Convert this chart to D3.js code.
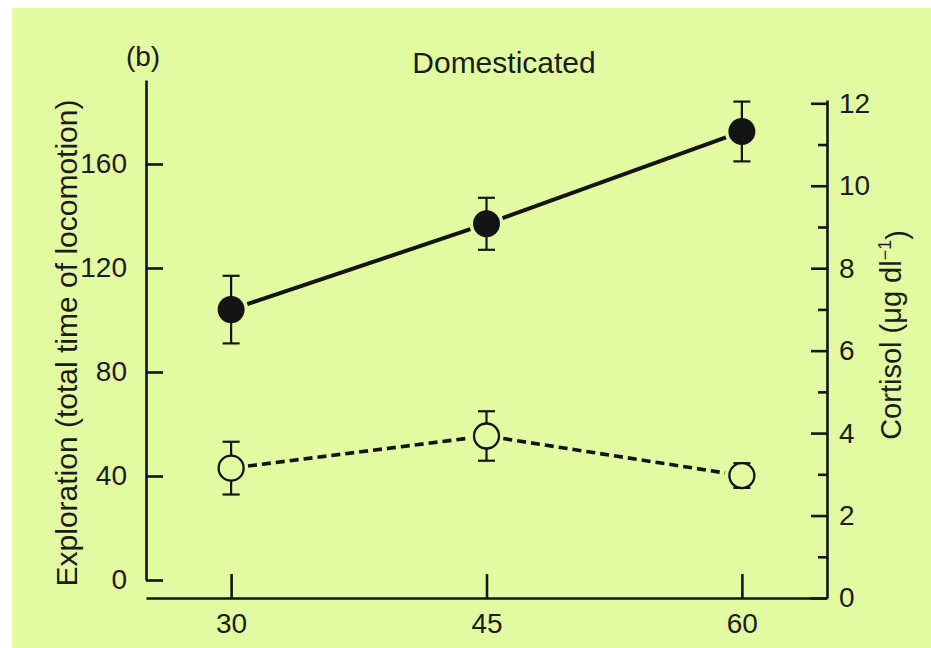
<!DOCTYPE html>
<html>
<head>
<meta charset="utf-8">
<script src="https://cdn.jsdelivr.net/npm/d3@7"></script>
<style>
  body { margin: 0; background: #fff; }
  text { font-family: "Liberation Sans", Arial, sans-serif; fill: #1c1c1c; }
</style>
</head>
<body>
<div id="chart"></div>
<script>
// ages on x axis
var ages = [30, 45, 60];
var xTicks = [30, 45, 60];

// exploration (filled circles, left axis)
var exploration = [104, 137, 172.5];
var explorationErr = [13, 10, 11.5];

// cortisol (open circles, right axis)
var cortisol = [3.15, 3.93, 2.97];
var cortisolErr = [0.64, 0.6, 0.3];

var leftTicks = [0, 40, 80, 120, 160];
var rightTicks = [0, 1, 2, 3, 4, 5, 6, 7, 8, 9, 10, 11, 12];

var W = 931, H = 648;
var ink = "#141414", bg = "#e2fba3";

var svg = d3.select("#chart").append("svg")
    .attr("width", W)
    .attr("height", H);

svg.append("rect")
    .attr("x", 12).attr("y", 8)
    .attr("width", W - 12).attr("height", H - 8)
    .attr("fill", bg);

var x = d3.scaleLinear().domain([25, 65]).range([146, 827]);
var yL = d3.scaleLinear().domain([0, 192.3]).range([580, 80]);
var yR = d3.scaleLinear().domain([0, 12.08]).range([598, 100]);

// bottom axis
var gx = svg.append("g")
    .attr("transform", "translate(0," + 598 + ")")
    .call(d3.axisBottom(x).tickValues(xTicks).tickSizeInner(-24).tickSizeOuter(0).tickPadding(15));

// left axis (ticks point inward)
var gl = svg.append("g")
    .attr("transform", "translate(" + 146 + ",0)")
    .call(d3.axisLeft(yL).tickValues(leftTicks).tickSizeInner(-17).tickSizeOuter(0).tickPadding(19));

// right axis
var gr = svg.append("g")
    .attr("transform", "translate(" + 827 + ",0)")
    .call(d3.axisRight(yR).tickValues(rightTicks).tickSizeOuter(0).tickPadding(12)
        .tickSizeInner(-16)
        .tickFormat(function(d) { return d % 2 === 0 ? d : ""; }));
gr.selectAll(".tick line")
    .attr("x2", function(d) { return d % 2 === 0 ? -16 : -9; });

[gx, gl, gr].forEach(function(g) {
  g.attr("font-size", null).attr("font-family", null);
  g.selectAll(".domain").attr("stroke", ink).attr("stroke-width", 2.6);
  g.selectAll(".tick line").attr("stroke", ink).attr("stroke-width", 2.6);
  g.selectAll(".tick text").style("font-size", "28px").attr("fill", "#1c1c1c");
});

// series lines, shortened so they stop just short of the markers
function segs(vals, y) {
  var out = [];
  for (var i = 0; i < vals.length - 1; i++) {
    var x1 = x(ages[i]), y1 = y(vals[i]), x2 = x(ages[i + 1]), y2 = y(vals[i + 1]);
    var len = Math.hypot(x2 - x1, y2 - y1), g = 17 / len;
    out.push([x1 + (x2 - x1) * g, y1 + (y2 - y1) * g, x2 - (x2 - x1) * g, y2 - (y2 - y1) * g]);
  }
  return out;
}

svg.selectAll(".expl-line")
    .data(segs(exploration, yL))
    .enter().append("line")
    .attr("class", "expl-line")
    .attr("x1", function(d) { return d[0]; }).attr("y1", function(d) { return d[1]; })
    .attr("x2", function(d) { return d[2]; }).attr("y2", function(d) { return d[3]; })
    .attr("stroke", ink).attr("stroke-width", 4);

svg.selectAll(".cort-line")
    .data(segs(cortisol, yR))
    .enter().append("line")
    .attr("class", "cort-line")
    .attr("x1", function(d) { return d[0]; }).attr("y1", function(d) { return d[1]; })
    .attr("x2", function(d) { return d[2]; }).attr("y2", function(d) { return d[3]; })
    .attr("stroke", ink).attr("stroke-width", 3.6)
    .attr("stroke-dasharray", "9,5");

// error bars
function errorBars(vals, errs, y, cls) {
  var g = svg.selectAll("." + cls)
      .data(vals)
      .enter().append("g")
      .attr("class", cls);
  g.append("line")
      .attr("x1", function(d, i) { return x(ages[i]); })
      .attr("x2", function(d, i) { return x(ages[i]); })
      .attr("y1", function(d, i) { return y(d + errs[i]); })
      .attr("y2", function(d, i) { return y(d - errs[i]); })
      .attr("stroke", ink).attr("stroke-width", 2.2);
  [1, -1].forEach(function(s) {
    g.append("line")
        .attr("x1", function(d, i) { return x(ages[i]) - 8.5; })
        .attr("x2", function(d, i) { return x(ages[i]) + 8.5; })
        .attr("y1", function(d, i) { return y(d + s * errs[i]); })
        .attr("y2", function(d, i) { return y(d + s * errs[i]); })
        .attr("stroke", ink).attr("stroke-width", 2.2);
  });
}
errorBars(exploration, explorationErr, yL, "expl-err");
errorBars(cortisol, cortisolErr, yR, "cort-err");

// markers
svg.selectAll(".expl-dot")
    .data(exploration)
    .enter().append("circle")
    .attr("class", "expl-dot")
    .attr("r", 13.5)
    .attr("cx", function(d, i) { return x(ages[i]); })
    .attr("cy", function(d) { return yL(d); })
    .attr("fill", ink);

svg.selectAll(".cort-dot")
    .data(cortisol)
    .enter().append("circle")
    .attr("class", "cort-dot")
    .attr("r", 12.5)
    .attr("cx", function(d, i) { return x(ages[i]); })
    .attr("cy", function(d) { return yR(d); })
    .attr("fill", bg)
    .attr("stroke", ink).attr("stroke-width", 2.3);

// titles
svg.append("text")
    .attr("x", 143).attr("y", 66)
    .attr("text-anchor", "middle")
    .style("font-size", "28px")
    .text("(b)");

svg.append("text")
    .attr("x", 504).attr("y", 73)
    .attr("text-anchor", "middle")
    .style("font-size", "30px")
    .text("Domesticated");

svg.append("text")
    .attr("transform", "translate(66,343) rotate(-90)")
    .attr("text-anchor", "middle")
    .attr("dy", "0.35em")
    .style("font-size", "30px")
    .text("Exploration (total time of locomotion)");

var rt = svg.append("text")
    .attr("transform", "translate(891,335) rotate(-90)")
    .attr("text-anchor", "middle")
    .attr("dy", "0.35em")
    .style("font-size", "29px");
rt.append("tspan").text("Cortisol (μg dl");
rt.append("tspan").attr("dy", "-0.55em").style("font-size", "18px").text("−1");
rt.append("tspan").attr("dy", "0.55em").text(")");
</script>
</body>
</html>
